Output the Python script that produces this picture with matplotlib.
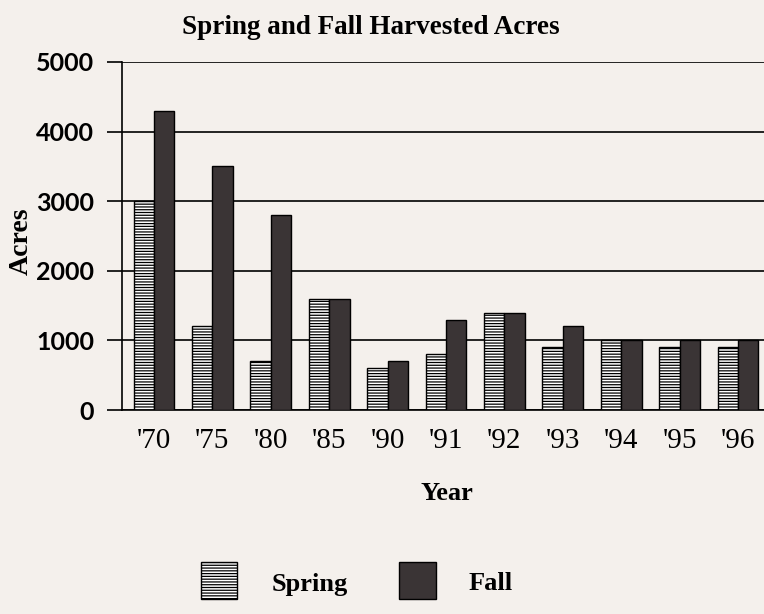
import numpy as np
import matplotlib.pyplot as plt
from matplotlib.patches import Rectangle

# data
years = ["'70", "'75", "'80", "'85", "'90", "'91", "'92", "'93", "'94", "'95", "'96"]
spring = [3000, 1200, 700, 1600, 600, 800, 1400, 900, 1000, 900, 900]
fall = [4300, 3500, 2800, 1600, 700, 1300, 1400, 1200, 1000, 1000, 1000]
yticks = [0, 1000, 2000, 3000, 4000, 5000]

bg = '#f4f0ec'
dark = '#3a3435'
serif = 'Liberation Serif'

plt.rcParams['hatch.linewidth'] = 0.9
plt.rcParams['hatch.color'] = '#333333'

fig = plt.figure(figsize=(7.64, 6.14), dpi=100, facecolor=bg)
ax = fig.add_axes([122/764, 1 - 410/614, 1 - 122/764, (410 - 62)/614])
ax.set_facecolor(bg)

x = np.arange(len(years))
w = 0.35
ax.bar(x - w/2, spring, w, color='white', edgecolor='black', hatch='------', linewidth=1, zorder=3)
ax.bar(x + w/2, fall, w, color=dark, edgecolor='black', linewidth=1, zorder=3)

ax.set_ylim(0, 5000)
ax.set_xlim(-0.548, (764 - 154)/58.4)
ax.set_yticks(yticks)
ax.set_yticklabels([str(t) for t in yticks], family='Lato', fontweight='bold', fontsize=18)
ax.tick_params(axis='y', length=11, width=1.2, direction='out', pad=9)
ax.set_xticks(x)
ax.set_xticklabels(years, family=serif, fontsize=21)
ax.tick_params(axis='x', length=0, pad=13)
ax.grid(axis='y', color='black', linewidth=1.2, zorder=1)
for s in ['top', 'right']:
    ax.spines[s].set_visible(False)
ax.spines['left'].set_linewidth(1.2)
ax.spines['bottom'].set_linewidth(1.2)

fig.text(371/764, 1 - 27/614, 'Spring and Fall Harvested Acres', family=serif,
         fontweight='bold', fontsize=19.5, ha='center', va='center')
fig.text(21/764, 1 - 241/614, 'Acres', family=serif, fontweight='bold', fontsize=20,
         rotation=90, ha='center', va='center')
fig.text(447/764, 1 - 494/614, 'Year', family=serif, fontweight='bold', fontsize=19,
         ha='center', va='center')

# legend drawn by hand
fig.patches.append(Rectangle((201/764, 1 - 599/614), 36/764, 37/614, transform=fig.transFigure,
                             facecolor='white', edgecolor='black', hatch='------', linewidth=1))
fig.patches.append(Rectangle((399/764, 1 - 599/614), 37/764, 37/614, transform=fig.transFigure,
                             facecolor=dark, edgecolor='black', linewidth=1))
fig.text(272/764, 1 - 584/614, 'Spring', family=serif, fontweight='bold', fontsize=19,
         ha='left', va='center')
fig.text(469/764, 1 - 584/614, 'Fall', family=serif, fontweight='bold', fontsize=19,
         ha='left', va='center')

fig.savefig('out.png', dpi=100, facecolor=bg)
